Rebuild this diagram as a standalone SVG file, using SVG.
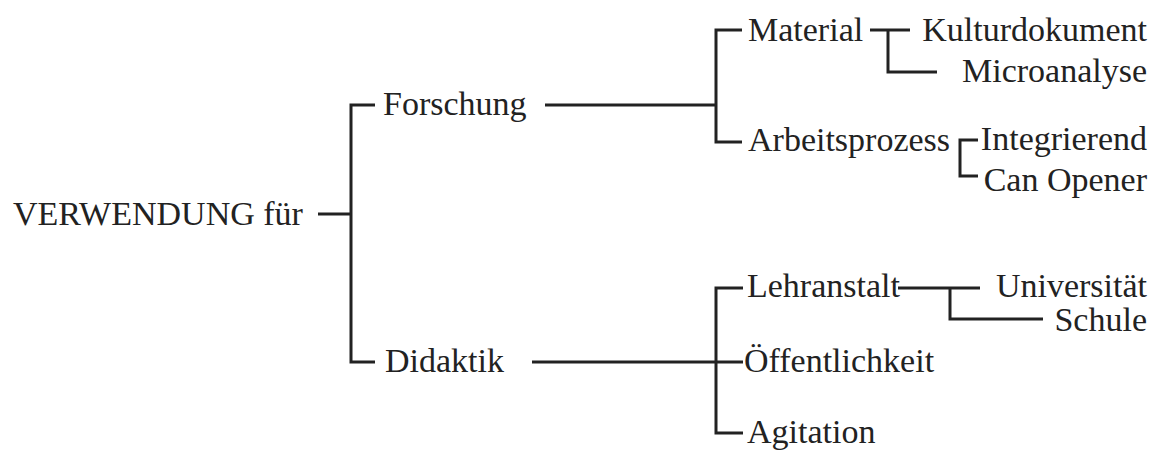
<svg xmlns="http://www.w3.org/2000/svg" width="1156" height="452" viewBox="0 0 1156 452">
  <style>
    .t { font-family: "Liberation Serif", "Times New Roman", serif; font-size: 34px; fill: #222; }
    .r { text-anchor: end; }
    .c { fill: none; stroke: #222; stroke-width: 3; stroke-linecap: butt; stroke-linejoin: miter; }
  </style>
  <rect width="1156" height="452" fill="#fff"/>

  <!-- connectors -->
  <g id="connectors" class="c">
    <!-- root bracket -->
    <path d="M318 214 H351"/>
    <path d="M375 105 H351 V362 H375"/>
    <!-- Forschung branch -->
    <path d="M545 105 H716"/>
    <path d="M742 30 H716 V142 H742"/>
    <path d="M870 30 H910"/>
    <path d="M888 30 V72 H937"/>
    <path d="M978 140 H960 V176 H978"/>
    <!-- Didaktik branch -->
    <path d="M532 362 H743"/>
    <path d="M743 288 H716 V433 H743"/>
    <path d="M898 288 H980"/>
    <path d="M950 288 V319 H1043"/>
  </g>

  <g id="verwendung"><text class="t" x="13" y="225">VERWENDUNG für</text></g>

  <g id="forschung"><text class="t" x="383" y="115">Forschung</text></g>
  <g id="material"><text class="t" x="748" y="41">Material</text></g>
  <g id="kulturdokument"><text class="t r" x="1147" y="41">Kulturdokument</text></g>
  <g id="microanalyse"><text class="t r" x="1147" y="82">Microanalyse</text></g>
  <g id="arbeitsprozess"><text class="t" x="748" y="151">Arbeitsprozess</text></g>
  <g id="integrierend"><text class="t r" x="1147" y="150">Integrierend</text></g>
  <g id="can-opener"><text class="t r" x="1147" y="191">Can Opener</text></g>

  <g id="didaktik"><text class="t" x="385" y="372">Didaktik</text></g>
  <g id="lehranstalt"><text class="t" x="747" y="297">Lehranstalt</text></g>
  <g id="universitaet"><text class="t r" x="1147" y="297">Universität</text></g>
  <g id="schule"><text class="t r" x="1147" y="331">Schule</text></g>
  <g id="oeffentlichkeit"><text class="t" x="744" y="372">Öffentlichkeit</text></g>
  <g id="agitation"><text class="t" x="747" y="443">Agitation</text></g>
</svg>
